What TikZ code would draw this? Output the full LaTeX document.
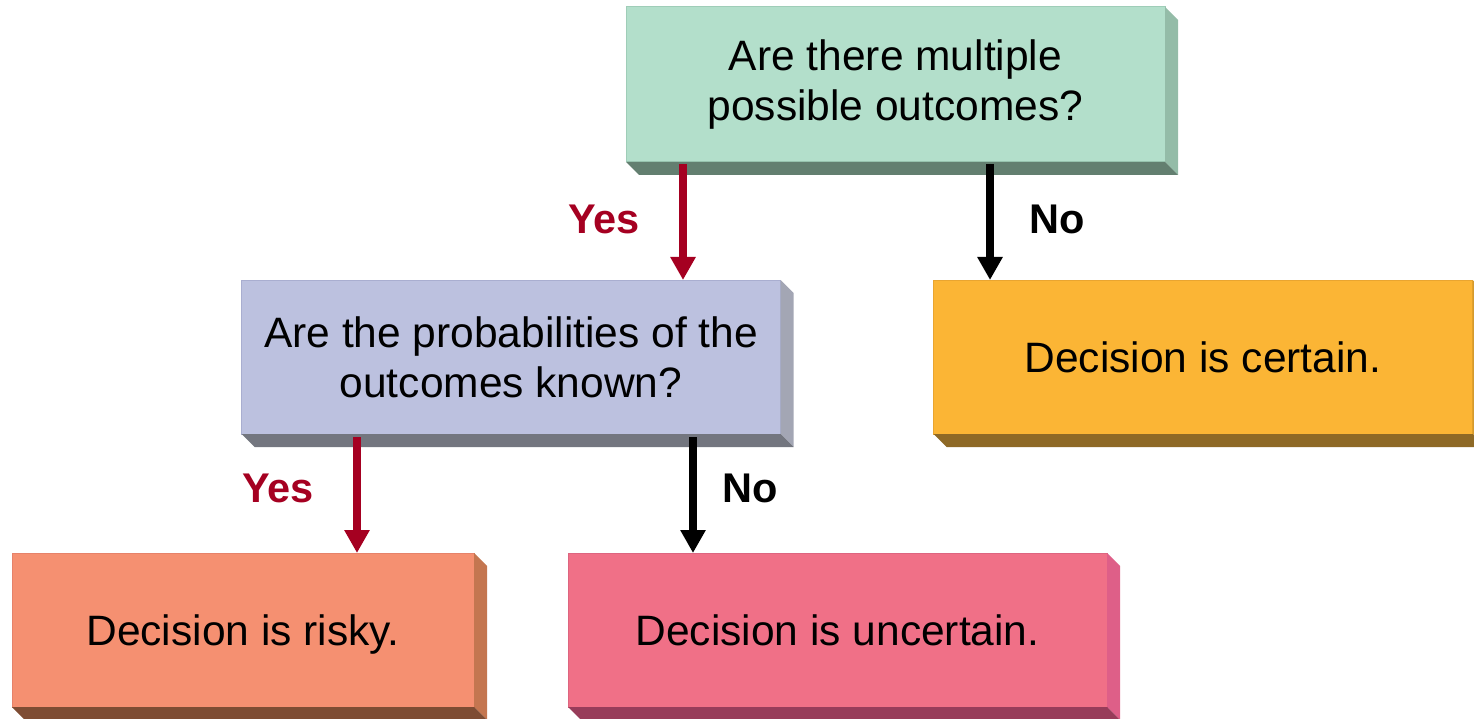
\documentclass[tikz,border=0pt]{standalone}
\usepackage{fontspec}
\setmainfont{Liberation Sans}
\usetikzlibrary{arrows.meta,calc}

% face colours of the boxes
\definecolor{mintF}{HTML}{B3DFCB}\definecolor{mintS}{HTML}{94BCA8}\definecolor{mintB}{HTML}{637F70}\definecolor{mintE}{HTML}{9FCDB8}
\definecolor{blueF}{HTML}{BCC1DF}\definecolor{blueS}{HTML}{A3A6B4}\definecolor{blueB}{HTML}{73767F}\definecolor{blueE}{HTML}{A9AED0}
\definecolor{goldF}{HTML}{FBB535}\definecolor{goldS}{HTML}{D59A2D}\definecolor{goldB}{HTML}{8E6926}\definecolor{goldE}{HTML}{E9A530}
\definecolor{salmF}{HTML}{F59071}\definecolor{salmS}{HTML}{C47650}\definecolor{salmB}{HTML}{7E4C33}\definecolor{salmE}{HTML}{E6826A}
\definecolor{pinkF}{HTML}{F07087}\definecolor{pinkS}{HTML}{DE5F88}\definecolor{pinkB}{HTML}{983C5A}\definecolor{pinkE}{HTML}{DD6580}
\definecolor{yesred}{HTML}{A50021}

\tikzset{
  face/.style={rectangle, inner sep=0pt, outer sep=0pt, line width=1pt,
    align=center, font=\fontsize{42.5}{50}\selectfont, text=black},
  wide/.style={face, minimum width=539pt, minimum height=155pt},
  narrow/.style={face, minimum width=462pt, minimum height=154pt},
  conn/.style={line width=8pt, -{Triangle[width=24pt,length=23pt]}},
  yesconn/.style={conn, draw=yesred, fill=yesred},
  noconn/.style={conn, draw=black, fill=black},
  yeslbl/.style={text=yesred, font=\fontsize{41.5}{49}\selectfont\bfseries},
  nolbl/.style={text=black, font=\fontsize{41.5}{49}\selectfont\bfseries},
}

% side and bottom faces of a box node (depth 13pt)
\newcommand\boxdepth[3]{%
  \fill[#2] (#1.north east) -- ++(13,13) -- ($(#1.south east)+(13,13)$) -- (#1.south east) -- cycle;
  \fill[#3] (#1.south west) -- (#1.south east) -- ($(#1.south east)+(13,13)$) -- ($(#1.south west)+(13,13)$) -- cycle;
}

\begin{document}
\begin{tikzpicture}[x=1pt,y=-1pt]
  \useasboundingbox (0,0) rectangle (1474,719);

  \node[wide, fill=mintF, draw=mintE] (q1) at (895.5,84.5) {Are there multiple\\possible outcomes?};
  \boxdepth{q1}{mintS}{mintB}

  \node[wide, fill=blueF, draw=blueE, minimum height=154pt] (q2) at (511,357) {Are the probabilities of the\\outcomes known?};
  \boxdepth{q2}{blueS}{blueB}

  \node[wide, fill=goldF, draw=goldE, minimum height=154pt] (certain) at (1203,357) {Decision is certain.};
  \boxdepth{certain}{goldS}{goldB}

  \node[narrow, fill=salmF, draw=salmE, text depth=0pt] (risky) at (243,630) {Decision is risky.};
  \boxdepth{risky}{salmS}{salmB}

  \node[wide, fill=pinkF, draw=pinkE, minimum height=154pt] (uncertain) at (837.5,630) {Decision is uncertain.};
  \boxdepth{uncertain}{pinkS}{pinkB}

  % connectors
  \draw[yesconn] ([xshift=-212.5pt,yshift=-2pt]q1.south) -- ([xshift=172pt]q2.north);
  \draw[noconn]  ([xshift=94.5pt,yshift=-2pt]q1.south) -- ([xshift=-213pt]certain.north);
  \draw[yesconn] ([xshift=-154pt,yshift=-3pt]q2.south) -- ([xshift=114pt]risky.north);
  \draw[noconn]  ([xshift=182pt,yshift=-3pt]q2.south) -- ([xshift=-144.5pt]uncertain.north);

  % connector labels
  \node[yeslbl] (l1) at (604,219) {Yes};
  \node[nolbl]  (l2) at (1057,219) {No};
  \node[yeslbl] (l3) at (278,488) {Yes};
  \node[nolbl]  (l4) at (750,488) {No};
\end{tikzpicture}
\end{document}
